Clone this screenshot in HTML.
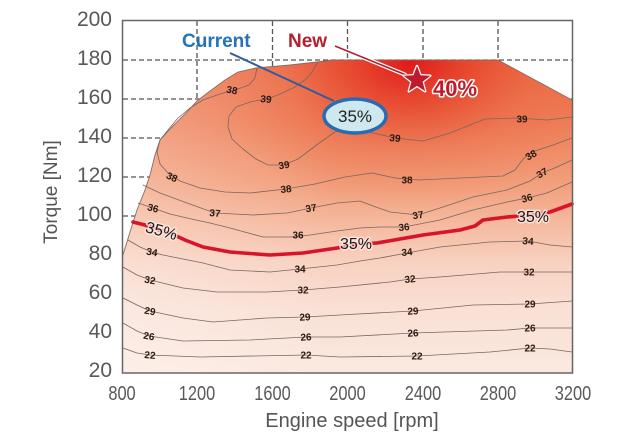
<!DOCTYPE html>
<html><head><meta charset="utf-8"><style>
html,body{margin:0;padding:0;background:#fff;}
svg{display:block;}
text{font-family:"Liberation Sans",Arial,sans-serif;}
</style></head><body>
<svg width="640" height="439" viewBox="0 0 640 439" xmlns="http://www.w3.org/2000/svg">
<defs>
<linearGradient id="gv" x1="0" y1="60" x2="0" y2="373" gradientUnits="userSpaceOnUse">
<stop offset="0" stop-color="#ec6b45"/>
<stop offset="0.2" stop-color="#ee7f57"/>
<stop offset="0.4" stop-color="#f2a07d"/>
<stop offset="0.52" stop-color="#f5b99e"/>
<stop offset="0.65" stop-color="#f8d2c1"/>
<stop offset="0.8" stop-color="#fae0d5"/>
<stop offset="1" stop-color="#fbe9e0"/>
</linearGradient>
<radialGradient id="gr" cx="410" cy="62" r="210" gradientUnits="userSpaceOnUse" gradientTransform="translate(410 62) scale(1 0.72) translate(-410 -62)">
<stop offset="0" stop-color="#df141a" stop-opacity="0.95"/>
<stop offset="0.3" stop-color="#e43420" stop-opacity="0.6"/>
<stop offset="0.6" stop-color="#e9583a" stop-opacity="0.25"/>
<stop offset="1" stop-color="#ec6b45" stop-opacity="0"/>
</radialGradient>
<linearGradient id="gl" x1="123" y1="0" x2="330" y2="0" gradientUnits="userSpaceOnUse">
<stop offset="0" stop-color="#fff" stop-opacity="0.28"/>
<stop offset="1" stop-color="#fff" stop-opacity="0"/>
</linearGradient>
</defs>

<!-- gridlines -->
<g stroke="#555" stroke-width="1.3" stroke-dasharray="5 3" fill="none">
<line x1="197" y1="21" x2="197" y2="373"/>
<line x1="272.5" y1="21" x2="272.5" y2="373"/>
<line x1="347.5" y1="21" x2="347.5" y2="373"/>
<line x1="423" y1="21" x2="423" y2="373"/>
<line x1="498" y1="21" x2="498" y2="373"/>
<line x1="123" y1="60" x2="572" y2="60"/>
<line x1="123" y1="99" x2="572" y2="99"/>
<line x1="123" y1="138" x2="572" y2="138"/>
<line x1="123" y1="177" x2="572" y2="177"/>
<line x1="123" y1="216" x2="572" y2="216"/>
<line x1="123" y1="255" x2="572" y2="255"/>
</g>

<!-- filled region -->
<path d="M123,373 L123,255 L130,232 L137,210 L145,190 L150,175 L155,155 L160,140 L170,129 L187,112 L197,101 L210,91 L225,80 L238,72 L256,68 L290,65 L317,62 L332,60 L498,60 L572,100 L572,373 Z" fill="url(#gv)"/>
<path d="M123,373 L123,255 L130,232 L137,210 L145,190 L150,175 L155,155 L160,140 L170,129 L187,112 L197,101 L210,91 L225,80 L238,72 L256,68 L290,65 L317,62 L332,60 L498,60 L572,100 L572,373 Z" fill="url(#gr)"/>
<path d="M123,373 L123,255 L130,232 L137,210 L145,190 L150,175 L155,155 L160,140 L170,129 L187,112 L197,101 L210,91 L225,80 L238,72 L256,68 L290,65 L317,62 L332,60 L498,60 L572,100 L572,373 Z" fill="url(#gl)"/>
<path d="M123,255 L130,232 L137,210 L145,190 L150,175 L155,155 L160,140 L170,129 L187,112 L197,101 L210,91 L225,80 L238,72 L256,68 L290,65 L317,62 L332,60 L498,60 L572,100" fill="none" stroke="#8c6a60" stroke-width="0.9"/>

<!-- contours -->
<g fill="none" stroke="#7a665e" stroke-width="0.8" stroke-linejoin="round" stroke-linecap="round">
<polyline points="318,62 312,72 305,80 293,88 278,95 266,99 250,102 236,107 229,116 228,127 232,139 243,149 256,159 268,165 284,165 298,159 310,150 322,141 335,132 350,128 373,133 395,138 423,141 450,133 470,125 485,119 517,118 547,120 572,117"/>
<polyline points="257,68 255,78 249,85 238,89 220,94 203,100 190,108 178,118 168,130 160,140 157,152 160,164 168,173 180,181 200,188 225,192 250,193 286,189 315,184 345,177 372,173 395,178 420,180 460,178 503,176 515,170 524,158 532,152 553,145 572,138"/>
<polyline points="143,185 160,193 187,203 215,213 253,215 287,213 311,208 337,203 360,201 373,206 390,212 418,215 440,208 473,197 507,190 530,181 542,173 557,167 572,160"/>
<polyline points="138,203 153,208 170,214 187,218 210,223 230,228 263,237 290,237 310,235 337,231 360,228 380,227 404,227 440,220 473,210 507,202 527,198 547,193 572,182"/>
<polyline points="128,240 140,247 152,252 163,255 183,259 203,263 230,270 270,272 300,269 337,265 360,261 380,258 407,253 440,247 490,242 528,241 550,245 572,247"/>
<polyline points="123,267 137,275 150,280 183,288 217,292 267,292 303,290 340,287 390,282 410,279 440,277 500,272 529,272 572,272"/>
<polyline points="123,298 137,305 150,311 183,318 213,322 267,318 305,317 340,315 413,311 473,305 530,304 572,301"/>
<polyline points="123,323 137,331 149,336 183,341 250,340 306,337 340,337 413,333 507,330 530,328 572,328"/>
<polyline points="123,348 137,353 150,355 200,357 306,355 340,357 417,356 490,352 530,348 550,349 572,352"/>
</g>

<!-- red 35% line -->
<polyline points="133,222 145,225 160,230 172,234 185,240 203,247 230,252 270,255 303,253 337,248 357,244 377,243 400,239 423,235 460,230 475,226 483,220 507,217 533,215 550,212 572,204" fill="none" stroke="#d8132a" stroke-width="3.6" stroke-linejoin="round" stroke-linecap="round"/>

<!-- contour labels -->
<g font-size="10" font-weight="bold" fill="#2b1a12" text-anchor="middle">
<text transform="translate(266,99) rotate(5)" dy="3.5">39</text>
<text transform="translate(284,165) rotate(-10)" dy="3.5">39</text>
<text transform="translate(395,138) rotate(5)" dy="3.5">39</text>
<text transform="translate(522,119)" dy="3.5">39</text>
<text transform="translate(232,90) rotate(10)" dy="3.5">38</text>
<text transform="translate(172,177) rotate(25)" dy="3.5">38</text>
<text transform="translate(286,189) rotate(-5)" dy="3.5">38</text>
<text transform="translate(407,180)" dy="3.5">38</text>
<text transform="translate(531,155) rotate(-30)" dy="3.5">38</text>
<text transform="translate(215,213) rotate(5)" dy="3.5">37</text>
<text transform="translate(311,208) rotate(-10)" dy="3.5">37</text>
<text transform="translate(418,215) rotate(-10)" dy="3.5">37</text>
<text transform="translate(542,173) rotate(-30)" dy="3.5">37</text>
<text transform="translate(153,208) rotate(15)" dy="3.5">36</text>
<text transform="translate(298,235)" dy="3.5">36</text>
<text transform="translate(404,227) rotate(-5)" dy="3.5">36</text>
<text transform="translate(527,198) rotate(-15)" dy="3.5">36</text>
<text transform="translate(152,252) rotate(10)" dy="3.5">34</text>
<text transform="translate(300,269)" dy="3.5">34</text>
<text transform="translate(407,252) rotate(-5)" dy="3.5">34</text>
<text transform="translate(528,241) rotate(5)" dy="3.5">34</text>
<text transform="translate(150,280) rotate(10)" dy="3.5">32</text>
<text transform="translate(303,290)" dy="3.5">32</text>
<text transform="translate(410,279) rotate(-5)" dy="3.5">32</text>
<text transform="translate(529,272)" dy="3.5">32</text>
<text transform="translate(150,311) rotate(10)" dy="3.5">29</text>
<text transform="translate(305,317) rotate(-3)" dy="3.5">29</text>
<text transform="translate(413,311) rotate(-3)" dy="3.5">29</text>
<text transform="translate(530,304)" dy="3.5">29</text>
<text transform="translate(149,336) rotate(10)" dy="3.5">26</text>
<text transform="translate(306,337) rotate(-3)" dy="3.5">26</text>
<text transform="translate(413,333) rotate(-3)" dy="3.5">26</text>
<text transform="translate(530,328)" dy="3.5">26</text>
<text transform="translate(150,355) rotate(5)" dy="3.5">22</text>
<text transform="translate(306,355)" dy="3.5">22</text>
<text transform="translate(417,356)" dy="3.5">22</text>
<text transform="translate(530,348)" dy="3.5">22</text>
</g>

<!-- 35% labels on red line -->
<g font-size="16" fill="#1a1a1a" text-anchor="middle" stroke="#fde8e0" stroke-width="3" stroke-opacity="0.85" paint-order="stroke" stroke-linejoin="round">
<text transform="translate(160,236) rotate(15)">35%</text>
<text transform="translate(356,249)">35%</text>
<text transform="translate(533,222)">35%</text>
</g>

<!-- frame -->
<rect x="122.5" y="20.5" width="450" height="352.5" fill="none" stroke="#666" stroke-width="1.5"/>

<!-- callouts -->
<line x1="230" y1="53" x2="334" y2="101" stroke="#2d5f9a" stroke-width="2"/>
<ellipse cx="355" cy="116" rx="31" ry="17" fill="#cfe8f0" stroke="#2a6cb0" stroke-width="3.5"/>
<text x="355" y="122" font-size="17" fill="#222" text-anchor="middle">35%</text>
<text x="182" y="47" font-size="19" font-weight="bold" fill="#2473b5">Current</text>

<line x1="335" y1="46" x2="406" y2="75" stroke="#fff" stroke-width="4"/>
<line x1="335" y1="46" x2="406" y2="75" stroke="#b01c2e" stroke-width="1.6"/>
<text x="288" y="47" font-size="19" font-weight="bold" fill="#b3202f">New</text>
<polygon points="417,66 420.5,75.2 430.3,75.7 422.6,81.8 425.2,91.3 417,85.9 408.8,91.3 411.4,81.8 403.7,75.7 413.5,75.2" fill="#c01a2c" stroke="#fff" stroke-width="2.5" paint-order="stroke" stroke-linejoin="round"/>
<text x="433" y="96" font-size="22" font-weight="bold" fill="#c01a2c" stroke="#fff" stroke-width="3" paint-order="stroke" stroke-linejoin="round">40%</text>

<!-- y tick labels -->
<g font-size="21" fill="#595959" text-anchor="end">
<text x="112" y="26">200</text>
<text x="112" y="65">180</text>
<text x="112" y="104">160</text>
<text x="112" y="143">140</text>
<text x="112" y="182">120</text>
<text x="112" y="221">100</text>
<text x="112" y="260">80</text>
<text x="112" y="299">60</text>
<text x="112" y="338">40</text>
<text x="112" y="377">20</text>
</g>

<!-- x tick labels -->
<g font-size="20" fill="#595959" text-anchor="middle">
<text transform="translate(122,400) scale(0.82,1)">800</text>
<text transform="translate(197,400) scale(0.82,1)">1200</text>
<text transform="translate(272.5,400) scale(0.82,1)">1600</text>
<text transform="translate(347.5,400) scale(0.82,1)">2000</text>
<text transform="translate(423,400) scale(0.82,1)">2400</text>
<text transform="translate(498,400) scale(0.82,1)">2800</text>
<text transform="translate(573,400) scale(0.82,1)">3200</text>
</g>

<!-- axis titles -->
<text x="352" y="427" font-size="20" fill="#555" text-anchor="middle">Engine speed [rpm]</text>
<text transform="translate(57,192) rotate(-90)" font-size="19" fill="#555" text-anchor="middle">Torque [Nm]</text>
</svg>
</body></html>
